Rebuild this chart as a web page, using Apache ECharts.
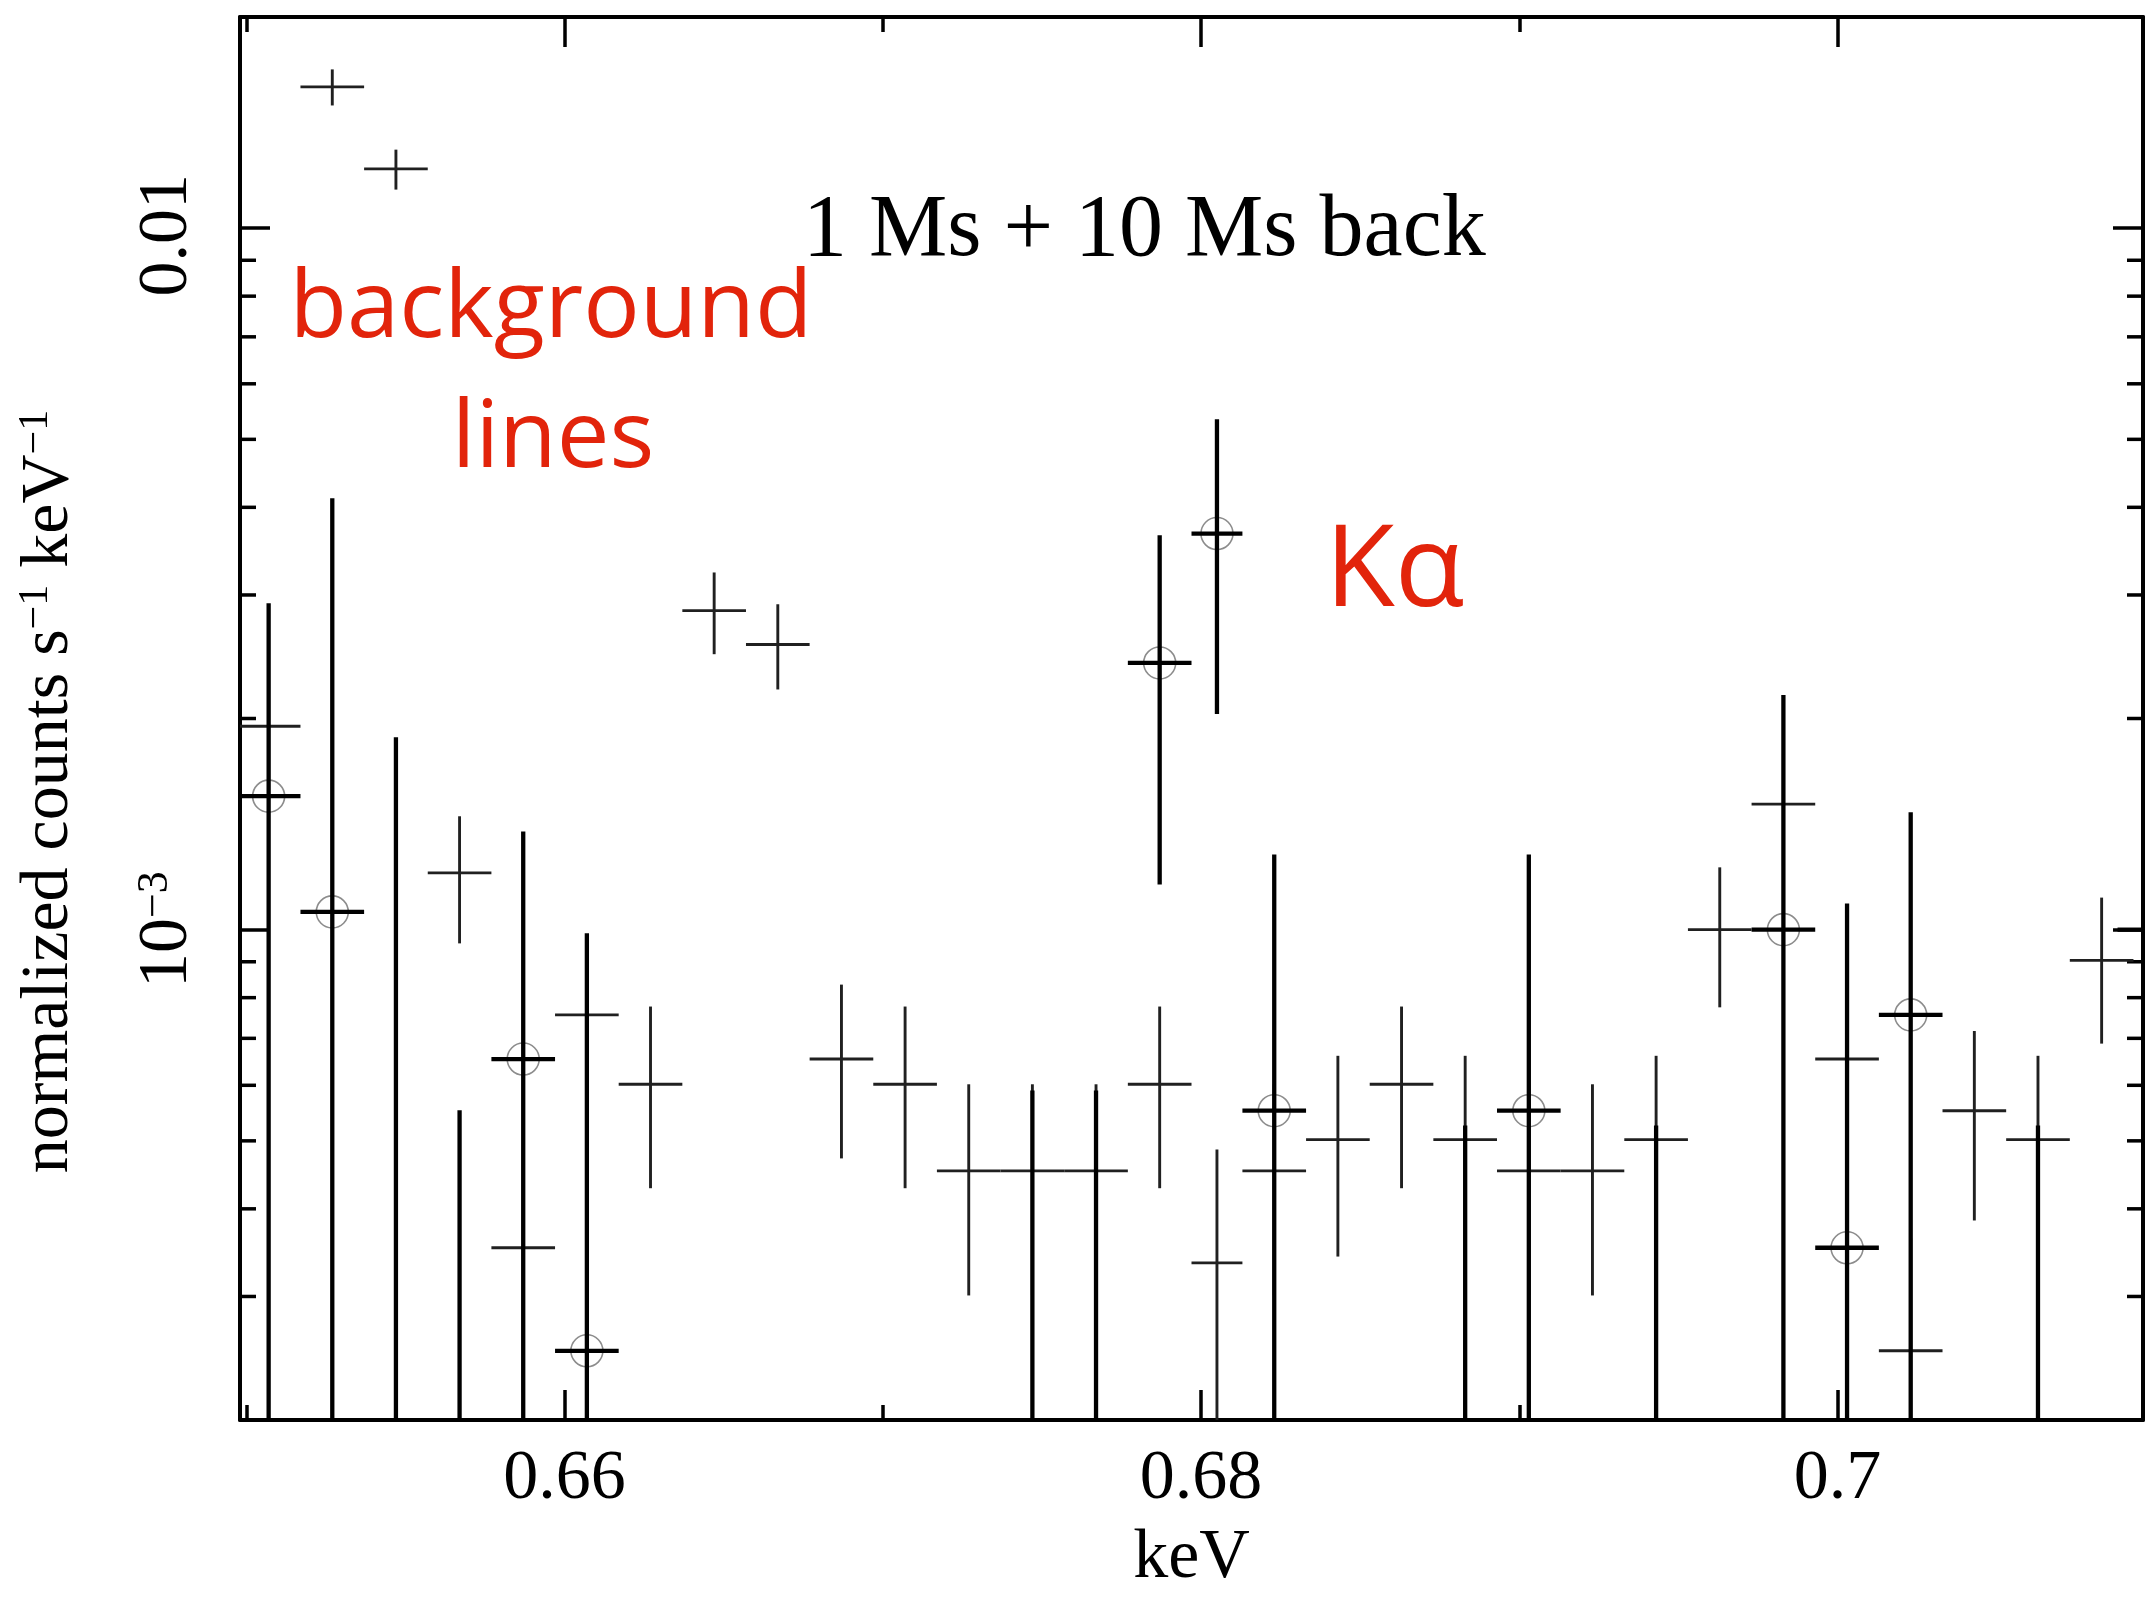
<!DOCTYPE html>
<html>
<head>
<meta charset="utf-8">
<script src="https://cdn.jsdelivr.net/npm/echarts@6/dist/echarts.min.js"></script>
<style>
  html, body { margin: 0; padding: 0; background: #ffffff; }
  #chart { width: 2145px; height: 1599px; }
</style>
</head>
<body>
<div id="chart"></div>
<script>
// ---- Background spectrum (10 Ms): bin centre, half width (keV), rate and 1-sigma range
const bkgEnergy = [0.6507, 0.6527, 0.6547, 0.6567, 0.6587, 0.6607, 0.6627, 0.6647, 0.6667, 0.6687,
                   0.6707, 0.6727, 0.6747, 0.6767, 0.6787, 0.6805, 0.6823, 0.6843, 0.6863, 0.6883,
                   0.6903, 0.6923, 0.6943, 0.6963, 0.6983, 0.7003, 0.7023, 0.7043, 0.7063, 0.7083];
const bkgHalfWidth = [0.001, 0.001, 0.001, 0.001, 0.001, 0.001, 0.001, 0.001, 0.001, 0.001,
                      0.001, 0.001, 0.001, 0.001, 0.001, 0.0008, 0.001, 0.001, 0.001, 0.001,
                      0.001, 0.001, 0.001, 0.001, 0.001, 0.001, 0.001, 0.001, 0.001, 0.001];
const bkgRate = [1.95e-3, 1.59e-2, 1.215e-2, 1.205e-3, 3.52e-4, 7.56e-4, 6.02e-4, 2.85e-3, 2.55e-3, 6.54e-4,
                 6.02e-4, 4.53e-4, 4.53e-4, 4.53e-4, 6.02e-4, 3.35e-4, 4.53e-4, 5.02e-4, 6.02e-4, 5.02e-4,
                 4.53e-4, 4.53e-4, 5.02e-4, 1.0e-3, 1.51e-3, 6.54e-4, 2.51e-4, 5.52e-4, 5.02e-4, 9.04e-4];
const bkgRateLow = [1.64e-3, 1.496e-2, 1.135e-2, 9.56e-4, 2.19e-4, 5.61e-4, 4.28e-4, 2.47e-3, 2.20e-3, 4.72e-4,
                    4.28e-4, 3.01e-4, 3.01e-4, 3.01e-4, 4.28e-4, 1.8e-4, 3.01e-4, 3.42e-4, 4.28e-4, 3.42e-4,
                    3.01e-4, 3.01e-4, 3.42e-4, 7.75e-4, 1.23e-3, 4.72e-4, 1.39e-4, 3.85e-4, 3.42e-4, 6.88e-4];
const bkgRateHigh = [2.27e-3, 1.684e-2, 1.294e-2, 1.451e-3, 4.85e-4, 9.51e-4, 7.77e-4, 3.23e-3, 2.91e-3, 8.35e-4,
                     7.77e-4, 6.02e-4, 6.02e-4, 6.02e-4, 7.77e-4, 4.86e-4, 6.02e-4, 6.61e-4, 7.77e-4, 6.61e-4,
                     6.02e-4, 6.02e-4, 6.61e-4, 1.227e-3, 1.78e-3, 8.35e-4, 3.63e-4, 7.17e-4, 6.61e-4, 1.111e-3];

// ---- Source spectrum (1 Ms): empty bins have rate 0, a low bound of 0 reaches zero
const srcEnergy = [0.6507, 0.6527, 0.6547, 0.6567, 0.6587, 0.6607, 0.6747, 0.6767, 0.6787, 0.6805,
                   0.6823, 0.6883, 0.6903, 0.6943, 0.6983, 0.7003, 0.7023, 0.7063, 0.7103];
const srcHalfWidth = [0.001, 0.001, 0.001, 0.001, 0.001, 0.001, 0.001, 0.001, 0.001, 0.0008,
                      0.001, 0.001, 0.001, 0.001, 0.001, 0.001, 0.001, 0.001, 0.0015];
const srcRate = [1.55e-3, 1.06e-3, 0, 0, 6.54e-4, 2.51e-4, 0, 0, 2.40e-3, 3.67e-3,
                 5.52e-4, 0, 5.52e-4, 0, 1.0e-3, 3.52e-4, 7.56e-4, 0, 1.0e-3];
const srcRateLow = [0, 0, 0, 0, 0, 0, 0, 0, 1.16e-3, 2.03e-3,
                    0, 0, 0, 0, 0, 0, 0, 0, 0];
const srcRateHigh = [2.92e-3, 4.12e-3, 1.88e-3, 5.53e-4, 1.38e-3, 9.88e-4, 5.9e-4, 5.9e-4, 3.65e-3, 5.34e-3,
                     1.28e-3, 5.26e-4, 1.28e-3, 5.26e-4, 2.16e-3, 1.09e-3, 1.47e-3, 5.26e-4, 2.0e-3];

// ---- Axis ticks
const xMajorTicks = [0.66, 0.68, 0.70];
const xMinorTicks = [0.65, 0.67, 0.69];
const xTickLabels = ['0.66', '0.68', '0.7'];
const yMinorTicks = [3e-4, 4e-4, 5e-4, 6e-4, 7e-4, 8e-4, 9e-4,
                     2e-3, 3e-3, 4e-3, 5e-3, 6e-3, 7e-3, 8e-3, 9e-3];

const X_MIN = 0.6498, X_MAX = 0.7096;
const Y_MIN = 2e-4, Y_MAX = 2e-2;

const SERIF = '"Liberation Serif", "Times New Roman", serif';
const RED = '#e2240b';

function rows(e, hw, y, lo, hi) {
  return e.map((v, i) => [v, hw[i], y[i], lo[i], hi[i]]);
}

// Cross-shaped error bar: vertical 1-sigma range plus horizontal bin width,
// clamped to the plotting frame.
function errorBar(opt) {
  return function (params, api) {
    const cs = params.coordSys;
    const left = cs.x, right = cs.x + cs.width, top = cs.y, bottom = cs.y + cs.height;
    const e = api.value(0), hw = api.value(1), y = api.value(2), lo = api.value(3), hi = api.value(4);
    const clampY = v => Math.max(top, Math.min(bottom, v));
    const clampX = v => Math.max(left, Math.min(right, v));
    const children = [];
    const pHi = api.coord([e, hi]);
    const xc = pHi[0];
    if (opt.circle && y > 0 && xc >= left && xc <= right) {
      const c = api.coord([e, y]);
      children.push({
        type: 'circle', z2: 1,
        shape: { cx: c[0], cy: c[1], r: opt.circleR },
        style: { fill: 'none', stroke: opt.circleColor, lineWidth: opt.circleWidth }
      });
    }
    if (xc >= left && xc <= right) {
      const yLow = lo > 0 ? api.coord([e, lo])[1] : bottom;
      children.push({
        type: 'line', z2: 2,
        shape: { x1: xc, y1: clampY(pHi[1]), x2: xc, y2: clampY(yLow) },
        style: { stroke: opt.color, lineWidth: opt.width, lineCap: 'butt' }
      });
    }
    if (y > 0) {
      const pl = api.coord([e - hw, y]), pr = api.coord([e + hw, y]);
      if (pl[1] >= top && pl[1] <= bottom) {
        children.push({
          type: 'line', z2: 2,
          shape: { x1: clampX(pl[0]), y1: pl[1], x2: clampX(pr[0]), y2: pr[1] },
          style: { stroke: opt.color, lineWidth: opt.width, lineCap: 'butt' }
        });
      }
    }
    return { type: 'group', children: children };
  };
}

// Minor log ticks drawn on both vertical frame edges
function yMinorTickRenderer(params, api) {
  const cs = params.coordSys;
  const p = api.coord([X_MIN, api.value(1)]);
  const len = 16;
  return {
    type: 'group',
    children: [
      { type: 'line', shape: { x1: cs.x, y1: p[1], x2: cs.x + len, y2: p[1] },
        style: { stroke: '#000', lineWidth: 3.5 } },
      { type: 'line', shape: { x1: cs.x + cs.width - len, y1: p[1], x2: cs.x + cs.width, y2: p[1] },
        style: { stroke: '#000', lineWidth: 3.5 } }
    ]
  };
}

function near(a, b) { return Math.abs(a - b) < 1e-6; }

const xLabelFormatter = function (v) {
  for (let i = 0; i < xMajorTicks.length; i++) {
    if (near(v, xMajorTicks[i])) return xTickLabels[i];
  }
  return '';
};
const yLabelFormatter = function (v) {
  const l = Math.log10(v);
  if (Math.abs(l + 2) < 1e-6) return '{d|0.01}';
  if (Math.abs(l + 3) < 1e-6) return '10{s|\u22123}';
  return '';
};

const axisLineStyle = { color: '#000', width: 4 };
const tickStyle = { color: '#000', width: 3.5 };

function xAxisDef(position, ticks, length, showLine, showLabel) {
  return {
    type: 'value', min: X_MIN, max: X_MAX, position: position,
    axisLine: { show: showLine, onZero: false, lineStyle: axisLineStyle },
    axisTick: { show: true, inside: true, length: length, customValues: ticks, lineStyle: tickStyle },
    axisLabel: showLabel ? {
      show: true, customValues: ticks, formatter: xLabelFormatter, margin: 25,
      fontFamily: SERIF, fontSize: 70, color: '#000'
    } : { show: false },
    splitLine: { show: false }
  };
}

const chart = echarts.init(document.getElementById('chart'), null, { renderer: 'canvas' });

chart.setOption({
  backgroundColor: '#ffffff',
  animation: false,
  grid: { left: 240, right: 2, top: 17, bottom: 162.5, containLabel: false },
  xAxis: [
    Object.assign(xAxisDef('bottom', xMajorTicks, 30, true, true), {
      name: 'keV', nameLocation: 'middle', nameGap: 104,
      nameTextStyle: { fontFamily: SERIF, fontSize: 70, color: '#000' }
    }),
    xAxisDef('top', xMajorTicks, 30, true, false),
    xAxisDef('bottom', xMinorTicks, 15, false, false),
    xAxisDef('top', xMinorTicks, 15, false, false)
  ],
  yAxis: [
    {
      type: 'log', logBase: 10, min: Y_MIN, max: Y_MAX, position: 'left',
      axisLine: { show: true, onZero: false, lineStyle: axisLineStyle },
      axisTick: { show: true, inside: true, length: 30, lineStyle: tickStyle },
      axisLabel: {
        show: true, rotate: 90, margin: 37, formatter: yLabelFormatter,
        showMinLabel: false, showMaxLabel: false,
        fontFamily: SERIF, fontSize: 70, color: '#000',
        rich: {
          d: { fontFamily: SERIF, fontSize: 70, color: '#000', padding: [0, 14, 0, 0] },
          s: { fontFamily: SERIF, fontSize: 44, color: '#000', verticalAlign: 'top' }
        }
      },
      splitLine: { show: false },
      minorTick: { show: false },
      name: 'normalized counts s{s|\u22121} keV{s|\u22121}',
      nameLocation: 'middle', nameRotate: 90, nameGap: 157,
      nameTextStyle: {
        fontFamily: SERIF, fontSize: 68, color: '#000', padding: [0, 146, 0, 0],
        rich: { s: { fontFamily: SERIF, fontSize: 42, color: '#000', verticalAlign: 'top' } }
      }
    },
    {
      type: 'log', logBase: 10, min: Y_MIN, max: Y_MAX, position: 'right',
      axisLine: { show: true, onZero: false, lineStyle: axisLineStyle },
      axisTick: { show: true, inside: true, length: 30, lineStyle: tickStyle },
      axisLabel: { show: false },
      splitLine: { show: false }
    }
  ],
  series: [
    {
      name: 'y minor ticks', type: 'custom', xAxisIndex: 0, yAxisIndex: 0, silent: true,
      renderItem: yMinorTickRenderer,
      encode: { x: 0, y: 1 },
      data: yMinorTicks.map(v => [X_MIN, v])
    },
    {
      name: '10 Ms background', type: 'custom', xAxisIndex: 0, yAxisIndex: 0, silent: true,
      renderItem: errorBar({ color: '#202020', width: 2.9 }),
      encode: { x: 0, y: 4 },
      data: rows(bkgEnergy, bkgHalfWidth, bkgRate, bkgRateLow, bkgRateHigh)
    },
    {
      name: '1 Ms source', type: 'custom', xAxisIndex: 0, yAxisIndex: 0, silent: true,
      renderItem: errorBar({ color: '#000000', width: 4.3, circle: true,
                             circleR: 16, circleColor: '#8c8c8c', circleWidth: 1.6 }),
      encode: { x: 0, y: 4 },
      data: rows(srcEnergy, srcHalfWidth, srcRate, srcRateLow, srcRateHigh)
    }
  ],
  graphic: [
    {
      type: 'text', x: 803, y: 232, silent: true,
      style: { text: '1 Ms + 10 Ms back', font: '88px "Liberation Serif"', fill: '#000',
               align: 'left', verticalAlign: 'middle' }
    },
    {
      type: 'text', x: 551, y: 310, silent: true,
      style: { text: 'background', font: '94px "Open Sans"', fill: RED,
               align: 'center', verticalAlign: 'middle' }
    },
    {
      type: 'text', x: 553, y: 440, silent: true,
      style: { text: 'lines', font: '94px "Open Sans"', fill: RED,
               align: 'center', verticalAlign: 'middle' }
    },
    {
      type: 'text', x: 1325, y: 574, silent: true,
      style: { text: 'K\u03b1', font: '114px "Open Sans"', fill: RED,
               align: 'left', verticalAlign: 'middle' }
    }
  ]
});
</script>
</body>
</html>
